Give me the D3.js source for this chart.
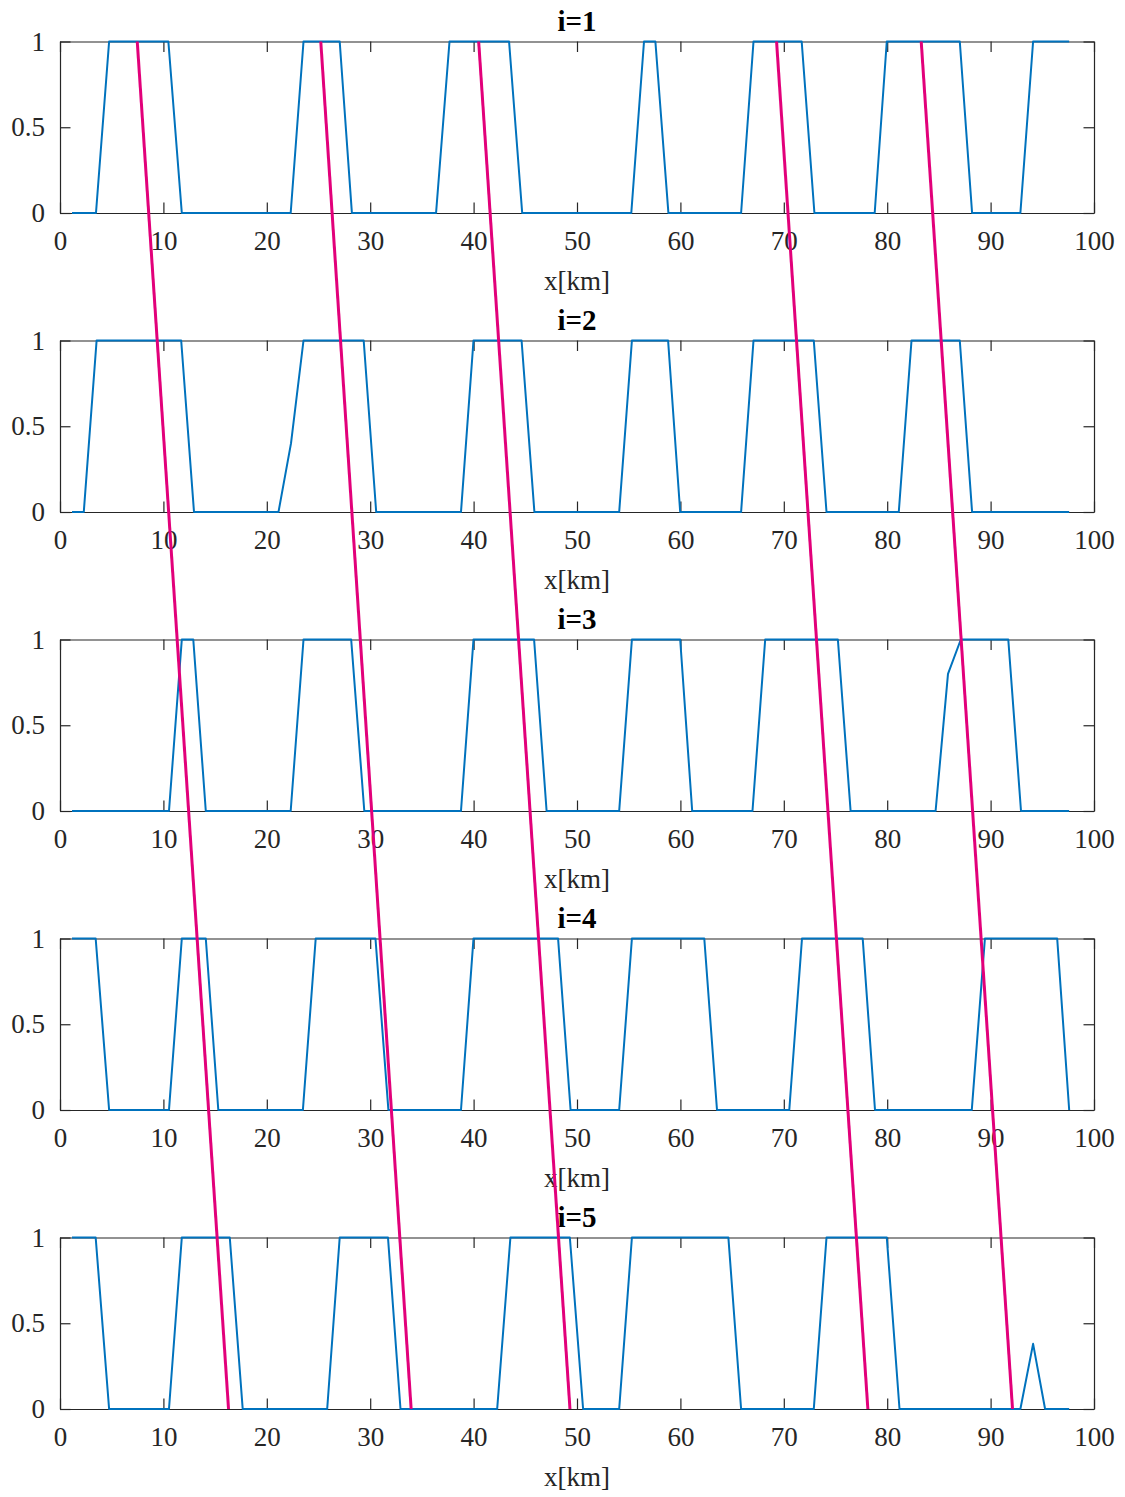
<!DOCTYPE html>
<html>
<head>
<meta charset="utf-8">
<script src="https://cdn.jsdelivr.net/npm/d3@7"></script>
<style>
  body { margin: 0; background: #fff; }
  text { font-family: "Liberation Serif", "Times New Roman", serif; }
</style>
</head>
<body>
<div id="chart"></div>
<script>
var wt = 1125;
var ht = 1497;

// tick values
var xTicks = [0, 10, 20, 30, 40, 50, 60, 70, 80, 90, 100];
var yTicks = [0, 0.5, 1];
var titles = ["i=1", "i=2", "i=3", "i=4", "i=5"];

// blue trace vertices [x km, value] for each panel
var series1 = [[1.16,0],[3.48,0],[4.75,1],[10.48,1],[11.78,0],[22.31,0],[23.55,1],[27.05,1],[28.23,0],
  [36.37,0],[37.67,1],[43.43,1],[44.70,0],[55.25,0],[56.48,1],[57.58,1],[58.84,0],[65.87,0],[67.07,1],
  [71.73,1],[72.96,0],[78.79,0],[79.96,1],[87.02,1],[88.21,0],[92.88,0],[94.11,1],[97.60,1]];
var series2 = [[1.16,0],[2.30,0],[3.54,1],[11.72,1],[12.96,0],[21.13,0],[22.34,0.40],[23.55,1],[29.37,1],
  [30.58,0],[38.78,0],[39.99,1],[44.64,1],[45.88,0],[54.08,0],[55.31,1],[58.81,1],[59.98,0],[65.87,0],
  [67.07,1],[72.90,1],[74.13,0],[81.12,0],[82.35,1],[87.02,1],[88.21,0],[97.60,0]];
var series3 = [[1.16,0],[10.54,0],[11.78,1],[12.89,1],[14.10,0],[22.31,0],[23.55,1],[28.16,1],[29.43,0],
  [38.78,0],[39.99,1],[45.85,1],[47.06,0],[54.08,0],[55.31,1],[59.98,1],[61.14,0],[66.97,0],[68.20,1],
  [75.23,1],[76.46,0],[84.68,0],[85.88,0.80],[87.12,1],[91.71,1],[92.94,0],[97.60,0]];
var series4 = [[1.16,1],[3.45,1],[4.75,0],[10.54,0],[11.78,1],[14.10,1],[15.31,0],[23.49,0],[24.73,1],
  [30.51,1],[31.76,0],[38.78,0],[39.99,1],[48.17,1],[49.38,0],[54.08,0],[55.31,1],[62.31,1],[63.54,0],
  [70.53,0],[71.76,1],[77.63,1],[78.82,0],[88.18,0],[89.45,1],[96.44,1],[97.60,0]];
var series5 = [[1.16,1],[3.45,1],[4.75,0],[10.54,0],[11.78,1],[16.42,1],[17.67,0],[25.84,0],[27.05,1],
  [31.72,1],[32.93,0],[42.28,0],[43.56,1],[49.31,1],[50.59,0],[54.08,0],[55.31,1],[64.64,1],[65.87,0],
  [72.90,0],[74.13,1],[79.96,1],[81.19,0],[92.88,0],[94.11,0.38],[95.27,0],[97.60,0]];
var allSeries = [series1, series2, series3, series4, series5];

// magenta lines: x (km) at top of first panel and at bottom of last panel
var magentaTop = [7.47, 25.22, 40.49, 69.30, 83.29];
var magentaBottom = [16.30, 33.96, 49.32, 78.13, 92.12];

var left = 60, right = 1094;
var top0 = 41.5, step = 299, panelH = 171.5;
var axisColor = "#262626";

var svg = d3.select("#chart").append("svg")
    .attr("width", wt)
    .attr("height", ht);

svg.append("rect").attr("width", wt).attr("height", ht).attr("fill", "#fff");

var x = d3.scaleLinear().domain([0, 100]).range([left, right]);

var line = function (y) {
    return d3.line()
        .x(function (d) { return x(d[0]); })
        .y(function (d) { return y(d[1]); });
};

allSeries.forEach(function (data, k) {
    var t = top0 + k * step;
    var y = d3.scaleLinear().domain([0, 1]).range([t + panelH, t]);
    var g = svg.append("g");

    g.append("g")
        .attr("class", "axis")
        .attr("transform", "translate(0," + (t + panelH) + ")")
        .call(d3.axisBottom(x).tickValues(xTicks).tickSizeInner(-10.5).tickSizeOuter(0).tickPadding(18));
    g.append("g")
        .attr("class", "axis")
        .attr("transform", "translate(0," + t + ")")
        .call(d3.axisTop(x).tickValues(xTicks).tickSizeInner(-10.5).tickSizeOuter(0).tickFormat(""));
    g.append("g")
        .attr("class", "axis")
        .attr("transform", "translate(" + left + ",0)")
        .call(d3.axisLeft(y).tickValues(yTicks).tickSizeInner(-10.5).tickSizeOuter(0).tickPadding(15)
            .tickFormat(d3.format("")));
    g.append("g")
        .attr("class", "axis")
        .attr("transform", "translate(" + right + ",0)")
        .call(d3.axisRight(y).tickValues(yTicks).tickSizeInner(-10.5).tickSizeOuter(0).tickFormat(""));

    g.append("text")
        .attr("x", (left + right) / 2)
        .attr("y", t + panelH + 77)
        .attr("text-anchor", "middle")
        .attr("font-size", 27)
        .attr("fill", axisColor)
        .text("x[km]");

    g.append("text")
        .attr("x", (left + right) / 2)
        .attr("y", t - 11)
        .attr("text-anchor", "middle")
        .attr("font-size", 29)
        .attr("font-weight", "bold")
        .attr("fill", "#000")
        .text(titles[k]);

    g.append("path")
        .datum(data)
        .attr("fill", "none")
        .attr("stroke", "#0072BD")
        .attr("stroke-width", 2)
        .attr("stroke-linejoin", "round")
        .attr("d", line(y));
});

svg.selectAll(".axis path, .axis line")
    .attr("stroke", axisColor)
    .attr("stroke-width", 1.2);
svg.selectAll(".axis text")
    .attr("font-size", 27)
    .attr("fill", axisColor)
    .style("font-family", "'Liberation Serif', 'Times New Roman', serif");

// overlay for magenta lines spanning all panels
var yAll = d3.scaleLinear().domain([0, 1]).range([top0, top0 + 4 * step + panelH]);
magentaTop.forEach(function (xt, i) {
    svg.append("path")
        .datum([[xt, 0], [magentaBottom[i], 1]])
        .attr("fill", "none")
        .attr("stroke", "#E2007A")
        .attr("stroke-width", 3)
        .attr("d", line(yAll));
});
</script>
</body>
</html>
